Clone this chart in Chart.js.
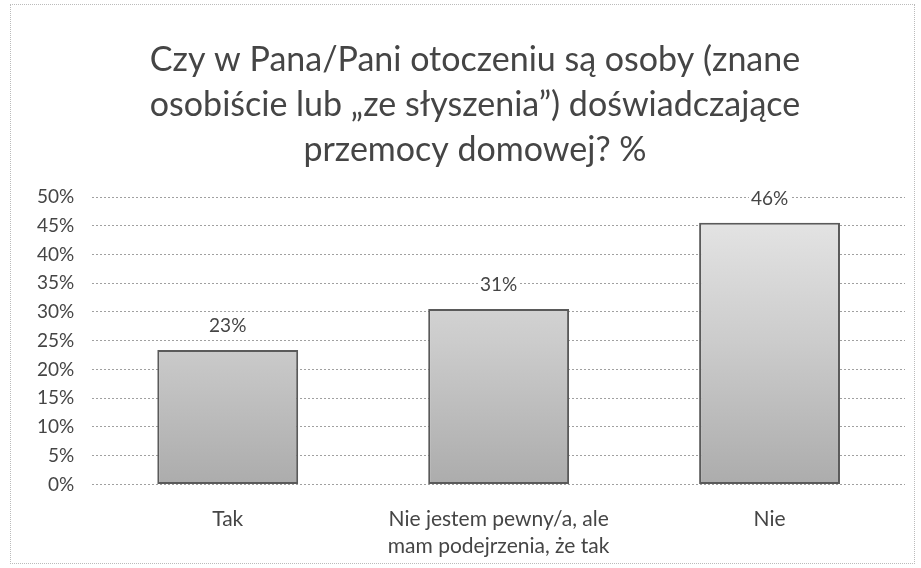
<!DOCTYPE html>
<html>
<head>
<meta charset="utf-8">
<script src="https://cdn.jsdelivr.net/npm/chart.js@4/dist/chart.umd.min.js"></script>
<style>
  html, body { margin: 0; padding: 0; background: #fff; }
  #wrap { position: absolute; left: 10px; top: 4px; width: 905px; height: 560px; border: 1px dotted #bbb; box-sizing: border-box; }
  canvas { display: block; }
</style>
</head>
<body>
<div id="wrap"><canvas id="c"></canvas></div>
<script>
const titleLines = ["Czy w Pana/Pani otoczeniu są osoby (znane", "osobiście lub „ze słyszenia”) doświadczające", "przemocy domowej? %"];
const categories = [["Tak"], ["Nie jestem pewny/a, ale", "mam podejrzenia, że tak"], ["Nie"]];
const values = [23.4, 30.5, 45.5];
const yTicks = [0, 5, 10, 15, 20, 25, 30, 35, 40, 45, 50];

const FONT = "Lato, 'Open Sans', 'DejaVu Sans', sans-serif";
const TEXT = "#454545";

const titlePlugin = {
  id: 'customTitle',
  afterDraw(chart) {
    const ctx = chart.ctx;
    ctx.save();
    ctx.font = "34px " + FONT;
    ctx.fillStyle = TEXT;
    ctx.textAlign = 'center';
    ctx.textBaseline = 'middle';
    titleLines.forEach((line, i) => ctx.fillText(line, 464, 55 + i * 45));
    ctx.restore();
  }
};

const labelPlugin = {
  id: 'barLabels',
  afterDatasetsDraw(chart) {
    const ctx = chart.ctx;
    const meta = chart.getDatasetMeta(0);
    ctx.save();
    ctx.font = "19px " + FONT;
    ctx.textAlign = 'center';
    ctx.textBaseline = 'middle';
    meta.data.forEach((bar, i) => {
      const txt = Math.round(values[i]) + '%';
      const w = ctx.measureText(txt).width;
      ctx.fillStyle = '#fff';
      ctx.fillRect(bar.x - w / 2 - 2, bar.y - 35, w + 4, 22);
      ctx.fillStyle = TEXT;
      ctx.fillText(txt, bar.x, bar.y - 24);
    });
    ctx.restore();
  }
};

function barFill(context) {
  const chart = context.chart;
  const area = chart.chartArea;
  if (!area) return '#ccc';
  const g = chart.ctx.createLinearGradient(0, area.top, 0, area.bottom);
  g.addColorStop(0, '#e8e8e8');
  g.addColorStop(0.5, '#cccccc');
  g.addColorStop(1, '#acacac');
  return g;
}

new Chart(document.getElementById('c'), {
  type: 'bar',
  data: {
    labels: categories,
    datasets: [{
      data: values,
      backgroundColor: barFill,
      borderColor: '#5a5a5a',
      borderWidth: 2,
      borderSkipped: false,
      categoryPercentage: 1,
      barPercentage: 0.52
    }]
  },
  options: {
    responsive: true,
    maintainAspectRatio: false,
    animation: false,
    layout: { padding: { left: 8, right: 9, top: 192, bottom: -10 } },
    plugins: {
      legend: { display: false },
      tooltip: { enabled: false },
      title: { display: false }
    },
    scales: {
      x: {
        grid: { display: false },
        border: { display: false },
        ticks: { color: TEXT, font: { family: FONT, size: 21, lineHeight: 1.3 }, padding: 13, maxRotation: 0 }
      },
      y: {
        min: 0, max: 50,
        afterBuildTicks(axis) { axis.ticks = yTicks.map(v => ({ value: v })); },
        grid: { color: '#a0a0a0', lineWidth: 1, drawTicks: false },
        border: { display: false, dash: [2, 2] },
        ticks: { color: TEXT, font: { family: FONT, size: 19 }, padding: 18, callback: v => v + '%' }
      }
    }
  },
  plugins: [labelPlugin, titlePlugin]
});
</script>
</body>
</html>
